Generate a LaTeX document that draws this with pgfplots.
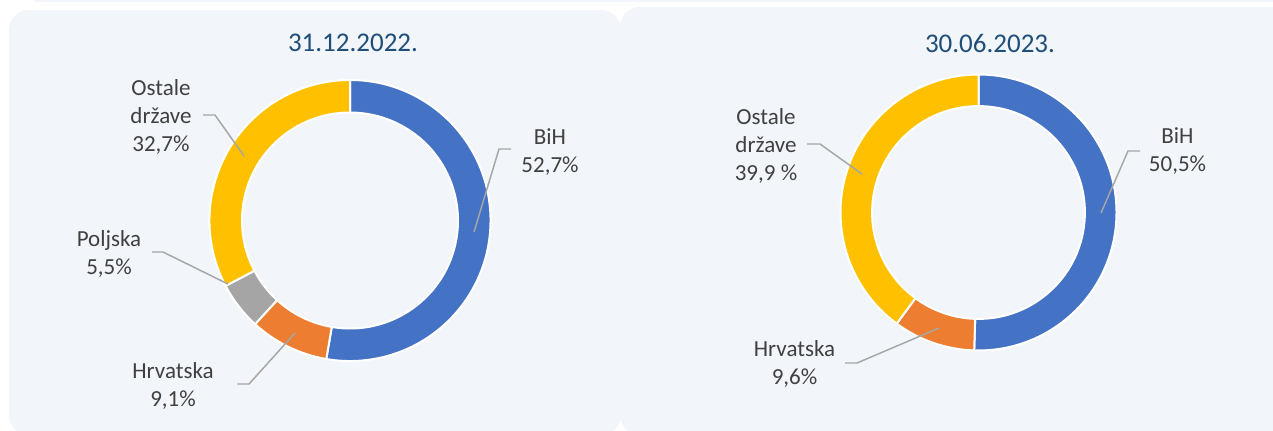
\documentclass[border=0pt]{standalone}
\usepackage{pgfplots}
\pgfplotsset{compat=1.18}
\usepackage{pgfplotstable}
\usepackage{fontspec}
\setmainfont{Carlito}

\definecolor{panel}{HTML}{F2F5FA}
\definecolor{titlec}{HTML}{1F4E79}
\definecolor{lblc}{HTML}{404040}
\definecolor{leadc}{HTML}{A6A6A6}
\definecolor{cBiH}{HTML}{4472C4}
\definecolor{cHR}{HTML}{ED7D31}
\definecolor{cPL}{HTML}{A5A5A5}
\definecolor{cOS}{HTML}{FFC000}

\tikzset{
  lbl/.style={align=center, text=lblc, font=\fontsize{17.25}{21}\selectfont, inner sep=0pt},
  ttl/.style={text=titlec, font=\fontsize{20.25}{24}\selectfont, inner sep=0pt},
  lead/.style={draw=leadc, line width=1.1pt}}

% 31.12.2022.
\pgfplotstableread{
name value color
BiH 52.7 cBiH
Hrvatska 9.1 cHR
Poljska 5.5 cPL
Ostale 32.7 cOS
}\tabA

% 30.06.2023.
\pgfplotstableread{
name value color
BiH 50.5 cBiH
Hrvatska 9.6 cHR
Ostale 39.9 cOS
}\tabB

\newcommand\prepdonut[2]{%
  \pgfplotstablegetrowsof{#1}%
  \pgfmathtruncatemacro\lastrow{\pgfplotsretval-1}%
  \def\cumang{90}%
  \pgfplotsforeachungrouped \i in {0,...,\lastrow}{%
    \pgfplotstablegetelem{\i}{value}\of{#1}%
    \pgfmathsetmacro\endang{\cumang-3.6*\pgfplotsretval}%
    \expandafter\xdef\csname #2S\i\endcsname{\cumang}%
    \expandafter\xdef\csname #2E\i\endcsname{\endang}%
    \pgfplotstablegetelem{\i}{color}\of{#1}%
    \expandafter\xdef\csname #2C\i\endcsname{\pgfplotsretval}%
    \let\cumang\endang
  }%
}
\prepdonut{\tabA}{L}
\prepdonut{\tabB}{R}

% #1 prefix, #2 last index, #3 cx, #4 cy, #5 outer radius, #6 inner radius
\newcommand\drawdonut[6]{%
  \pgfplotsforeachungrouped \i in {0,...,#2}{%
    \edef\doit{\noexpand\fill[fill=\csname #1C\i\endcsname, draw=white, line width=1.5pt]
      ([shift={(\csname #1S\i\endcsname:#5)}]axis cs:#3,#4)
      arc[start angle=\csname #1S\i\endcsname, end angle=\csname #1E\i\endcsname, radius=#5]
      -- ([shift={(\csname #1E\i\endcsname:#6)}]axis cs:#3,#4)
      arc[start angle=\csname #1E\i\endcsname, end angle=\csname #1S\i\endcsname, radius=#6]
      -- cycle;}%
    \doit
  }%
}

\begin{document}
\begin{tikzpicture}
\begin{axis}[x=0.75pt, y=0.75pt, xmin=0, xmax=1273, ymin=0, ymax=430,
  hide axis, clip=false, scale only axis]
  % background and panels
  \fill[white] (axis cs:0,0) rectangle (axis cs:1273,430);
  \fill[panel] (axis cs:35,428) rectangle (axis cs:1290,433);
  \fill[panel, rounded corners=15pt] (axis cs:620,-5) rectangle (axis cs:1290,423);
  \fill[panel, rounded corners=15pt] (axis cs:9,-5) rectangle (axis cs:621,420);

  % donuts
  \drawdonut{L}{3}{350}{209.5}{105.4pt}{81pt}
  \drawdonut{R}{2}{978.5}{217.5}{103.5pt}{79.8pt}

  % titles
  \node[ttl] at (axis cs:353,387.5) {31.12.2022.};
  \node[ttl] at (axis cs:990,387) {30.06.2023.};

  % left leaders and labels
  \draw[lead] (axis cs:474,198) -- (axis cs:499,281) -- (axis cs:511,281);
  \draw[lead] (axis cs:203,315) -- (axis cs:215,315) -- (axis cs:244,274);
  \draw[lead] (axis cs:152,178) -- (axis cs:163,178) -- (axis cs:228,146);
  \draw[lead] (axis cs:237,46) -- (axis cs:249,46) -- (axis cs:295,97);
  \node[lbl] at (axis cs:550,278) {BiH\\52,7\%};
  \node[lbl] at (axis cs:161,313.5) {Ostale\\države\\32,7\%};
  \node[lbl] at (axis cs:109,176) {Poljska\\5,5\%};
  \node[lbl] at (axis cs:173,44) {Hrvatska\\9,1\%};

  % right leaders and labels
  \draw[lead] (axis cs:1101,217) -- (axis cs:1128,279) -- (axis cs:1140,279);
  \draw[lead] (axis cs:807,286) -- (axis cs:820,286) -- (axis cs:862,256);
  \draw[lead] (axis cs:845,67) -- (axis cs:857,67) -- (axis cs:939,102);
  \node[lbl] at (axis cs:1177.5,278.5) {BiH\\50,5\%};
  \node[lbl] at (axis cs:766,284) {Ostale\\države\\39,9 \%};
  \node[lbl] at (axis cs:794.5,66) {Hrvatska\\9,6\%};
\end{axis}
\pgfresetboundingbox
\useasboundingbox (current axis.south west) rectangle (current axis.north east);
\end{tikzpicture}
\end{document}
